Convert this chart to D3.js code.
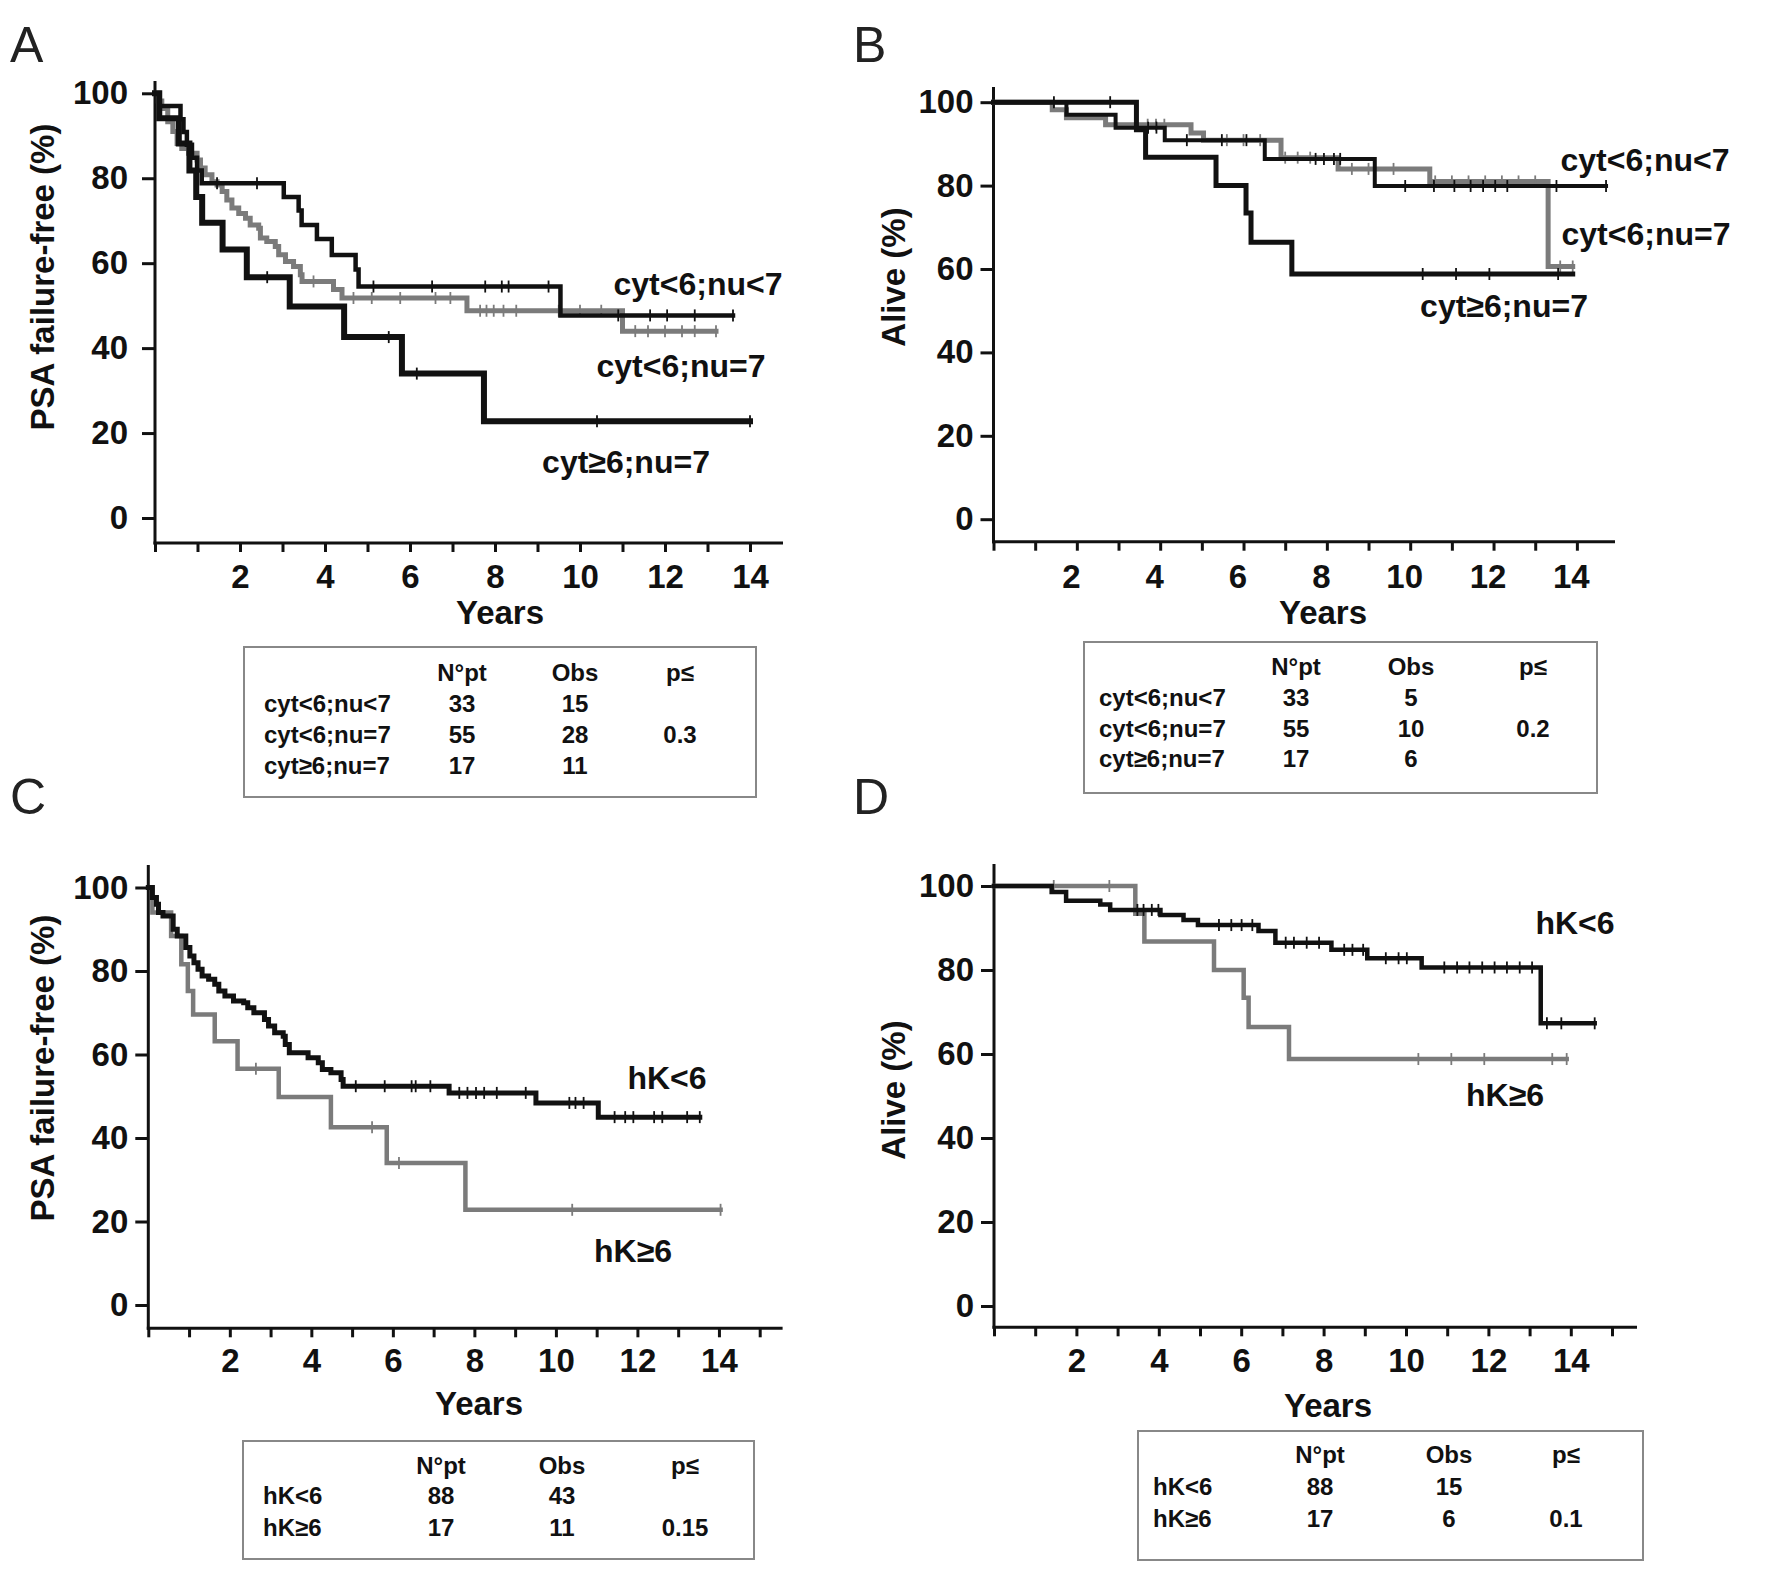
<!DOCTYPE html>
<html>
<head>
<meta charset="utf-8">
<script src="https://cdn.jsdelivr.net/npm/d3@7"></script>
<style>
  body { margin: 0; background: #fff; }
</style>
</head>
<body>
<svg id="fig"></svg>
<script>
const FONT = '"Liberation Sans", Arial, Helvetica, sans-serif';
const BLACK = "#111";
const GRAY = "#7b7b7b";

// axis ticks
const yTicks = [0, 20, 40, 60, 80, 100];
const xTickLabels = [2, 4, 6, 8, 10, 12, 14];

// ---- Panel A : PSA failure-free by cyt / nu ----
const aLtLtTimes = [0.1, 0.6, 0.67, 0.75, 0.87, 0.99, 1.1, 3.03, 3.38, 3.45, 3.81, 4.16, 4.72, 4.79, 9.54];
const aLtLtSurv  = [97.0, 93.9, 90.9, 87.9, 84.8, 81.8, 78.8, 75.6, 72.4, 69.0, 65.7, 61.9, 58.5, 54.5, 47.7];
const aLtLtEnd   = 13.6;
const aLtLtCens  = [1.46, 2.4, 5.14, 6.52, 7.77, 8.16, 8.32, 9.26, 10.9, 11.65, 12.05, 12.7, 13.6];

const aLtEqTimes = [0.08, 0.16, 0.3, 0.42, 0.52, 0.63, 0.79, 0.99, 1.07, 1.18, 1.34, 1.46, 1.58, 1.69, 1.81, 1.97,
                    2.13, 2.24, 2.44, 2.48, 2.63, 2.83, 2.91, 3.07, 3.26, 3.42, 3.46, 4.2, 4.4, 7.34, 11.0];
const aLtEqSurv  = [98.2, 96.4, 93.3, 91.0, 88.2, 87.0, 85.9, 84.3, 82.4, 80.8, 79.2, 78.4, 76.9, 74.9, 73.0, 71.7,
                    70.6, 69.0, 68.2, 65.9, 65.1, 63.9, 62.0, 60.4, 59.2, 57.3, 55.7, 53.8, 51.8, 48.8, 44.0];
const aLtEqEnd   = 13.2;
const aLtEqCens  = [3.73, 4.67, 5.1, 5.77, 6.6, 6.95, 7.65, 7.8, 7.97, 8.2, 8.5, 9.5, 10.0, 10.5,
                    11.3, 11.6, 12.0, 12.4, 12.7, 13.2];

const aGeEqTimes = [0.1, 0.56, 0.81, 0.97, 1.11, 1.59, 2.16, 3.17, 4.45, 5.81, 7.74];
const aGeEqSurv  = [94.1, 88.2, 81.8, 75.6, 69.5, 63.2, 56.7, 49.8, 42.6, 34.0, 22.8];
const aGeEqEnd   = 14.0;
const aGeEqCens  = [2.64, 5.5, 6.16, 10.4, 14.0];

// ---- Panel B : overall survival by cyt / nu ----
const bLtLtTimes = [1.75, 2.93, 4.11, 6.51, 9.15];
const bLtLtSurv  = [97.0, 93.9, 90.9, 86.4, 79.9];
const bLtLtEnd   = 14.7;
const bLtLtCens  = [3.71, 3.91, 4.64, 5.48, 6.07, 7.73, 7.93, 8.17, 8.32, 9.88, 10.57, 11.06, 11.45,
                    11.75, 12.04, 12.33, 13.51, 14.7];

const bLtEqTimes = [1.41, 1.75, 2.69, 4.74, 5.04, 6.9, 8.27, 10.47, 13.31];
const bLtEqSurv  = [98.2, 96.3, 94.6, 92.6, 90.9, 86.7, 84.0, 81.0, 60.6];
const bLtEqEnd   = 13.9;
const bLtEqCens  = [3.7, 3.9, 4.1, 5.6, 6.0, 6.4, 7.0, 7.3, 7.6, 8.6, 9.0, 9.6, 10.6, 11.0, 11.4, 11.8,
                    12.2, 12.6, 13.0, 13.6, 13.9];

const bGeEqTimes = [3.43, 3.65, 5.34, 6.06, 6.18, 7.16];
const bGeEqSurv  = [93.4, 86.8, 80.0, 73.4, 66.4, 58.8];
const bGeEqEnd   = 13.9;
const bGeEqCens  = [1.45, 2.8, 10.3, 11.1, 11.9, 13.55];

// ---- Panel C : PSA failure-free by hK ----
const cLtTimes = [0.1, 0.2, 0.25, 0.36, 0.61, 0.71, 0.92, 1.02, 1.12, 1.22, 1.32, 1.48, 1.63, 1.73, 1.88, 2.09,
                  2.34, 2.44, 2.59, 2.85, 2.95, 3.1, 3.31, 3.36, 3.46, 3.92, 4.17, 4.27, 4.48, 4.73, 4.78,
                  7.38, 9.51, 11.04];
const cLtSurv  = [97.6, 96.0, 94.0, 93.2, 90.0, 88.4, 85.6, 83.6, 82.0, 80.4, 78.8, 78.0, 76.8, 75.2, 74.0, 72.8,
                  72.4, 71.2, 70.0, 68.4, 66.8, 65.2, 64.4, 62.4, 60.4, 59.2, 58.0, 56.4, 55.6, 54.0, 52.4,
                  50.8, 48.4, 45.0];
const cLtEnd   = 13.53;
const cLtCens  = [5.09, 5.8, 6.46, 6.56, 6.92, 7.63, 7.83, 8.04, 8.24, 8.55, 9.26, 10.33, 10.48, 10.68,
                  11.44, 11.7, 11.9, 12.41, 12.61, 13.22, 13.53];

const cGeTimes = [0.1, 0.56, 0.81, 0.97, 1.1, 1.63, 2.19, 3.2, 4.48, 5.85, 7.78];
const cGeSurv  = [94.0, 88.4, 81.6, 75.2, 69.6, 63.2, 56.6, 49.8, 42.6, 34.0, 22.8];
const cGeEnd   = 14.04;
const cGeCens  = [2.64, 5.49, 6.15, 10.4, 14.04];

// ---- Panel D : overall survival by hK ----
const dLtTimes = [1.4, 1.75, 2.58, 2.82, 4.04, 4.6, 4.95, 6.42, 6.83, 8.19, 9.06, 10.38, 13.27];
const dLtSurv  = [98.6, 96.5, 95.6, 94.3, 93.1, 91.9, 90.7, 89.3, 86.5, 84.8, 82.8, 80.6, 67.3];
const dLtEnd   = 14.58;
const dLtCens  = [3.48, 3.63, 3.83, 3.99, 5.46, 5.76, 6.01, 6.27, 7.08, 7.28, 7.59, 7.89, 8.5, 8.7, 8.96,
                  9.51, 9.82, 10.02, 10.93, 11.24, 11.54, 11.85, 12.15, 12.45, 12.76, 13.06, 13.42, 13.77, 14.58];

const dGeTimes = [3.43, 3.65, 5.34, 6.06, 6.18, 7.16];
const dGeSurv  = [93.4, 86.8, 80.0, 73.4, 66.4, 58.8];
const dGeEnd   = 13.9;
const dGeCens  = [1.45, 2.8, 10.3, 11.1, 11.9, 13.55, 13.9];

// ---- tables ----
const tabHeader = ["N°pt", "Obs", "p≤"];
const cytGroups = ["cyt<6;nu<7", "cyt<6;nu=7", "cyt≥6;nu=7"];
const hkGroups  = ["hK<6", "hK≥6"];
const tabANpt = [33, 55, 17], tabAObs = [15, 28, 11], tabAP = ["", "0.3", ""];
const tabBNpt = [33, 55, 17], tabBObs = [5, 10, 6],   tabBP = ["", "0.2", ""];
const tabCNpt = [88, 17],     tabCObs = [43, 11],     tabCP = ["", "0.15"];
const tabDNpt = [88, 17],     tabDObs = [15, 6],      tabDP = ["", "0.1"];

const W = 1772, H = 1571;
const svg = d3.select("#fig").attr("width", W).attr("height", H)
  .style("font-family", FONT);
svg.append("rect").attr("width", W).attr("height", H).attr("fill", "#fff");

function survAt(times, surv, t) {
  let s = 100;
  times.forEach((tt, i) => { if (tt <= t) s = surv[i]; });
  return s;
}

function drawPanel(p) {
  const x = d3.scaleLinear().domain([0, 14]).range([p.x0, p.x0 + 14 * p.pxYr]);
  const y = d3.scaleLinear().domain([0, 100]).range([p.y0, p.y100]);
  const g = svg.append("g");

  // panel letter
  g.append("text").attr("x", p.letter[0]).attr("y", p.letter[1])
    .attr("font-size", 50).attr("fill", "#222").text(p.id);

  // axis lines
  g.append("line").attr("x1", p.x0).attr("x2", p.x0).attr("y1", p.yTop).attr("y2", p.axisY + 1.5)
    .attr("stroke", BLACK).attr("stroke-width", 3);
  g.append("line").attr("x1", p.x0 - 1.5).attr("x2", p.xEnd).attr("y1", p.axisY).attr("y2", p.axisY)
    .attr("stroke", BLACK).attr("stroke-width", 3);

  const yAxis = d3.axisLeft(y).tickValues(yTicks).tickSize(13).tickPadding(p.yPad);
  const ya = g.append("g").attr("transform", `translate(${p.x0},0)`).call(yAxis);
  ya.select(".domain").remove();
  ya.selectAll(".tick line").attr("stroke", BLACK).attr("stroke-width", 3);
  ya.selectAll(".tick text").attr("font-size", 33).attr("font-weight", "bold")
    .attr("font-family", FONT).attr("fill", BLACK);

  const xAxis = d3.axisBottom(x).tickValues(d3.range(0, p.xMaxTick + 1)).tickSize(9)
    .tickPadding(p.xLabOff - 11.5 - 9)
    .tickFormat(d => xTickLabels.includes(d) ? d : "");
  const xa = g.append("g").attr("transform", `translate(0,${p.axisY})`).call(xAxis);
  xa.select(".domain").remove();
  xa.selectAll(".tick line").attr("stroke", BLACK).attr("stroke-width", 3);
  xa.selectAll(".tick text").attr("font-size", 33).attr("font-weight", "bold")
    .attr("font-family", FONT).attr("fill", BLACK).attr("dx", p.xLabDx);

  // axis titles
  g.append("text").attr("x", p.years[0]).attr("y", p.years[1] + 11.5)
    .attr("text-anchor", "middle").attr("font-size", 33).attr("font-weight", "bold")
    .attr("fill", BLACK).text("Years");
  g.append("text").attr("transform", `translate(${p.yLab[0]},${p.yLab[1]}) rotate(-90)`)
    .attr("dy", "0.36em").attr("text-anchor", "middle").attr("font-size", 33)
    .attr("font-weight", "bold").attr("fill", BLACK).text(p.yTitle);

  // survival curves
  const line = d3.line().x(d => x(d[0])).y(d => y(d[1])).curve(d3.curveStepAfter);
  p.series.forEach(s => {
    const pts = [[0, 100]];
    s.times.forEach((t, i) => pts.push([t, s.surv[i]]));
    pts.push([s.end, s.surv[s.surv.length - 1]]);
    g.append("path").attr("d", line(pts)).attr("fill", "none")
      .attr("stroke", s.color).attr("stroke-width", s.width)
      .attr("stroke-linejoin", "miter").attr("stroke-linecap", "square");
    g.selectAll(null).data(s.cens).enter().append("line")
      .attr("x1", d => x(d)).attr("x2", d => x(d))
      .attr("y1", d => y(survAt(s.times, s.surv, d)) - 6)
      .attr("y2", d => y(survAt(s.times, s.surv, d)) + 6)
      .attr("stroke", s.color).attr("stroke-width", 1.8);
  });

  // curve labels
  p.labels.forEach(l => {
    g.append("text").attr("x", l[1]).attr("y", l[2] + 11.5).attr("text-anchor", "middle")
      .attr("font-size", 32).attr("font-weight", "bold").attr("fill", BLACK).text(l[0]);
  });

  // table
  const t = p.table;
  g.append("rect").attr("x", t.box[0]).attr("y", t.box[1]).attr("width", t.box[2]).attr("height", t.box[3])
    .attr("fill", "none").attr("stroke", "#888").attr("stroke-width", 2);
  const cols = [t.colN, t.colObs, t.colP];
  tabHeader.forEach((h, i) => {
    g.append("text").attr("x", cols[i]).attr("y", t.headY).attr("text-anchor", "middle")
      .attr("font-size", 24).attr("font-weight", "bold").attr("fill", BLACK).text(h);
  });
  t.groups.forEach((grp, r) => {
    const yy = t.rowY[r];
    g.append("text").attr("x", t.labX).attr("y", yy).attr("font-size", 24)
      .attr("font-weight", "bold").attr("fill", BLACK).text(grp);
    [t.npt[r], t.obs[r], t.p[r]].forEach((v, i) => {
      g.append("text").attr("x", cols[i]).attr("y", yy).attr("text-anchor", "middle")
        .attr("font-size", 24).attr("font-weight", "bold").attr("fill", BLACK).text(v);
    });
  });
}

drawPanel({
  id: "A", letter: [10, 62],
  x0: 155, pxYr: 42.5, xEnd: 783, yTop: 81, y100: 93.3, y0: 518, axisY: 543, xMaxTick: 14,
  yPad: 14, xLabOff: 33, xLabDx: 0,
  years: [500, 612], yLab: [42, 277], yTitle: "PSA failure-free (%)",
  series: [
    { times: aLtEqTimes, surv: aLtEqSurv, end: aLtEqEnd, cens: aLtEqCens, color: GRAY, width: 5 },
    { times: aLtLtTimes, surv: aLtLtSurv, end: aLtLtEnd, cens: aLtLtCens, color: BLACK, width: 4.5 },
    { times: aGeEqTimes, surv: aGeEqSurv, end: aGeEqEnd, cens: aGeEqCens, color: BLACK, width: 6 }
  ],
  labels: [["cyt<6;nu<7", 698, 283], ["cyt<6;nu=7", 681, 365], ["cyt≥6;nu=7", 626, 461]],
  table: { box: [244, 647, 512, 150], headY: 681, rowY: [712, 743, 774], labX: 264,
           colN: 462, colObs: 575, colP: 680, groups: cytGroups, npt: tabANpt, obs: tabAObs, p: tabAP }
});

drawPanel({
  id: "B", letter: [853, 62],
  x0: 993.5, pxYr: 41.67, xEnd: 1615, yTop: 87, y100: 102.2, y0: 519.2, axisY: 541.7, xMaxTick: 14,
  yPad: 7, xLabOff: 34, xLabDx: -6,
  years: [1323, 612], yLab: [893, 277], yTitle: "Alive (%)",
  series: [
    { times: bLtEqTimes, surv: bLtEqSurv, end: bLtEqEnd, cens: bLtEqCens, color: GRAY, width: 5 },
    { times: bLtLtTimes, surv: bLtLtSurv, end: bLtLtEnd, cens: bLtLtCens, color: BLACK, width: 4 },
    { times: bGeEqTimes, surv: bGeEqSurv, end: bGeEqEnd, cens: bGeEqCens, color: BLACK, width: 5 }
  ],
  labels: [["cyt<6;nu<7", 1645, 159], ["cyt<6;nu=7", 1646, 233], ["cyt≥6;nu=7", 1504, 305]],
  table: { box: [1084, 642, 513, 151], headY: 675, rowY: [706, 737, 767], labX: 1099,
           colN: 1296, colObs: 1411, colP: 1533, groups: cytGroups, npt: tabBNpt, obs: tabBObs, p: tabBP }
});

drawPanel({
  id: "C", letter: [10, 814],
  x0: 148.3, pxYr: 40.76, xEnd: 782.6, yTop: 865, y100: 887.5, y0: 1305, axisY: 1328.3, xMaxTick: 15,
  yPad: 7, xLabOff: 32, xLabDx: 0,
  years: [479, 1403], yLab: [42, 1068], yTitle: "PSA failure-free (%)",
  series: [
    { times: cGeTimes, surv: cGeSurv, end: cGeEnd, cens: cGeCens, color: GRAY, width: 4.5 },
    { times: cLtTimes, surv: cLtSurv, end: cLtEnd, cens: cLtCens, color: BLACK, width: 5 }
  ],
  labels: [["hK<6", 667, 1077], ["hK≥6", 633, 1250]],
  table: { box: [243, 1441, 511, 118], headY: 1474, rowY: [1504, 1536], labX: 263,
           colN: 441, colObs: 562, colP: 685, groups: hkGroups, npt: tabCNpt, obs: tabCObs, p: tabCP }
});

drawPanel({
  id: "D", letter: [853, 814],
  x0: 994, pxYr: 41.2, xEnd: 1637, yTop: 864, y100: 886, y0: 1306, axisY: 1327.3, xMaxTick: 15,
  yPad: 7, xLabOff: 33, xLabDx: 0,
  years: [1328, 1405], yLab: [893, 1090], yTitle: "Alive (%)",
  series: [
    { times: dGeTimes, surv: dGeSurv, end: dGeEnd, cens: dGeCens, color: GRAY, width: 4.5 },
    { times: dLtTimes, surv: dLtSurv, end: dLtEnd, cens: dLtCens, color: BLACK, width: 4.5 }
  ],
  labels: [["hK<6", 1575, 922], ["hK≥6", 1505, 1094]],
  table: { box: [1138, 1431, 505, 129], headY: 1463, rowY: [1495, 1527], labX: 1153,
           colN: 1320, colObs: 1449, colP: 1566, groups: hkGroups, npt: tabDNpt, obs: tabDObs, p: tabDP }
});
</script>
</body>
</html>
